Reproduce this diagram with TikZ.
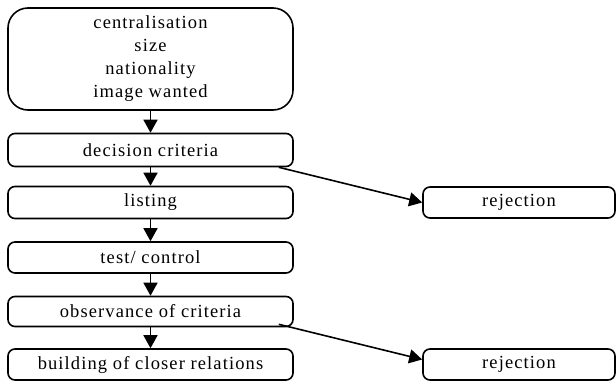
\documentclass[tikz,border=0pt]{standalone}
\usepackage{fontspec}
\setmainfont{Liberation Serif}[LetterSpace=6]
\usetikzlibrary{arrows.meta,positioning}
\begin{document}
\begin{tikzpicture}[x=1pt,y=-1pt,
  box/.style={draw, line width=1.6pt, rounded corners=7pt, inner sep=0pt,
    minimum width=285pt, font=\fontsize{18.5}{23}\selectfont},
  rejbox/.style={box, minimum width=192pt},
  arr/.style={line width=1.6pt, -{Triangle[length=13pt,width=14pt]}}]
\useasboundingbox (0,0) rectangle (616,381);
\node[box, rounded corners=20pt, minimum height=102pt, align=center] (top) at (150.5,59)
  {centralisation\\size\\nationality\\image wanted};
\node[box, minimum height=33pt] (dec) at (150.5,150) {decision criteria};
\node[box, minimum height=32pt] (lst) at (150.5,202.5) {listing};
\node[box, minimum height=31pt] (tst) at (150.5,257.5) {test/ control};
\node[box, minimum height=30pt] (obs) at (150.5,311.5) {observance of criteria};
\node[box, minimum height=31pt] (bld) at (150.5,364.5) {building of closer relations};
\node[rejbox, minimum height=31pt] (rej1) at (519,202.5) {rejection};
\node[rejbox, minimum height=31pt] (rej2) at (519,364.5) {rejection};
\draw[arr] (top) -- (dec);
\draw[arr] (dec) -- (lst);
\draw[arr] (lst) -- (tst);
\draw[arr] (tst) -- (obs);
\draw[arr] (obs) -- (bld);
\draw[arr] ([xshift=-15pt]dec.south east) -- (rej1.west);
\draw[arr] ([xshift=-15pt,yshift=3pt]obs.south east) -- ([yshift=5pt]rej2.west);
\end{tikzpicture}
\end{document}
